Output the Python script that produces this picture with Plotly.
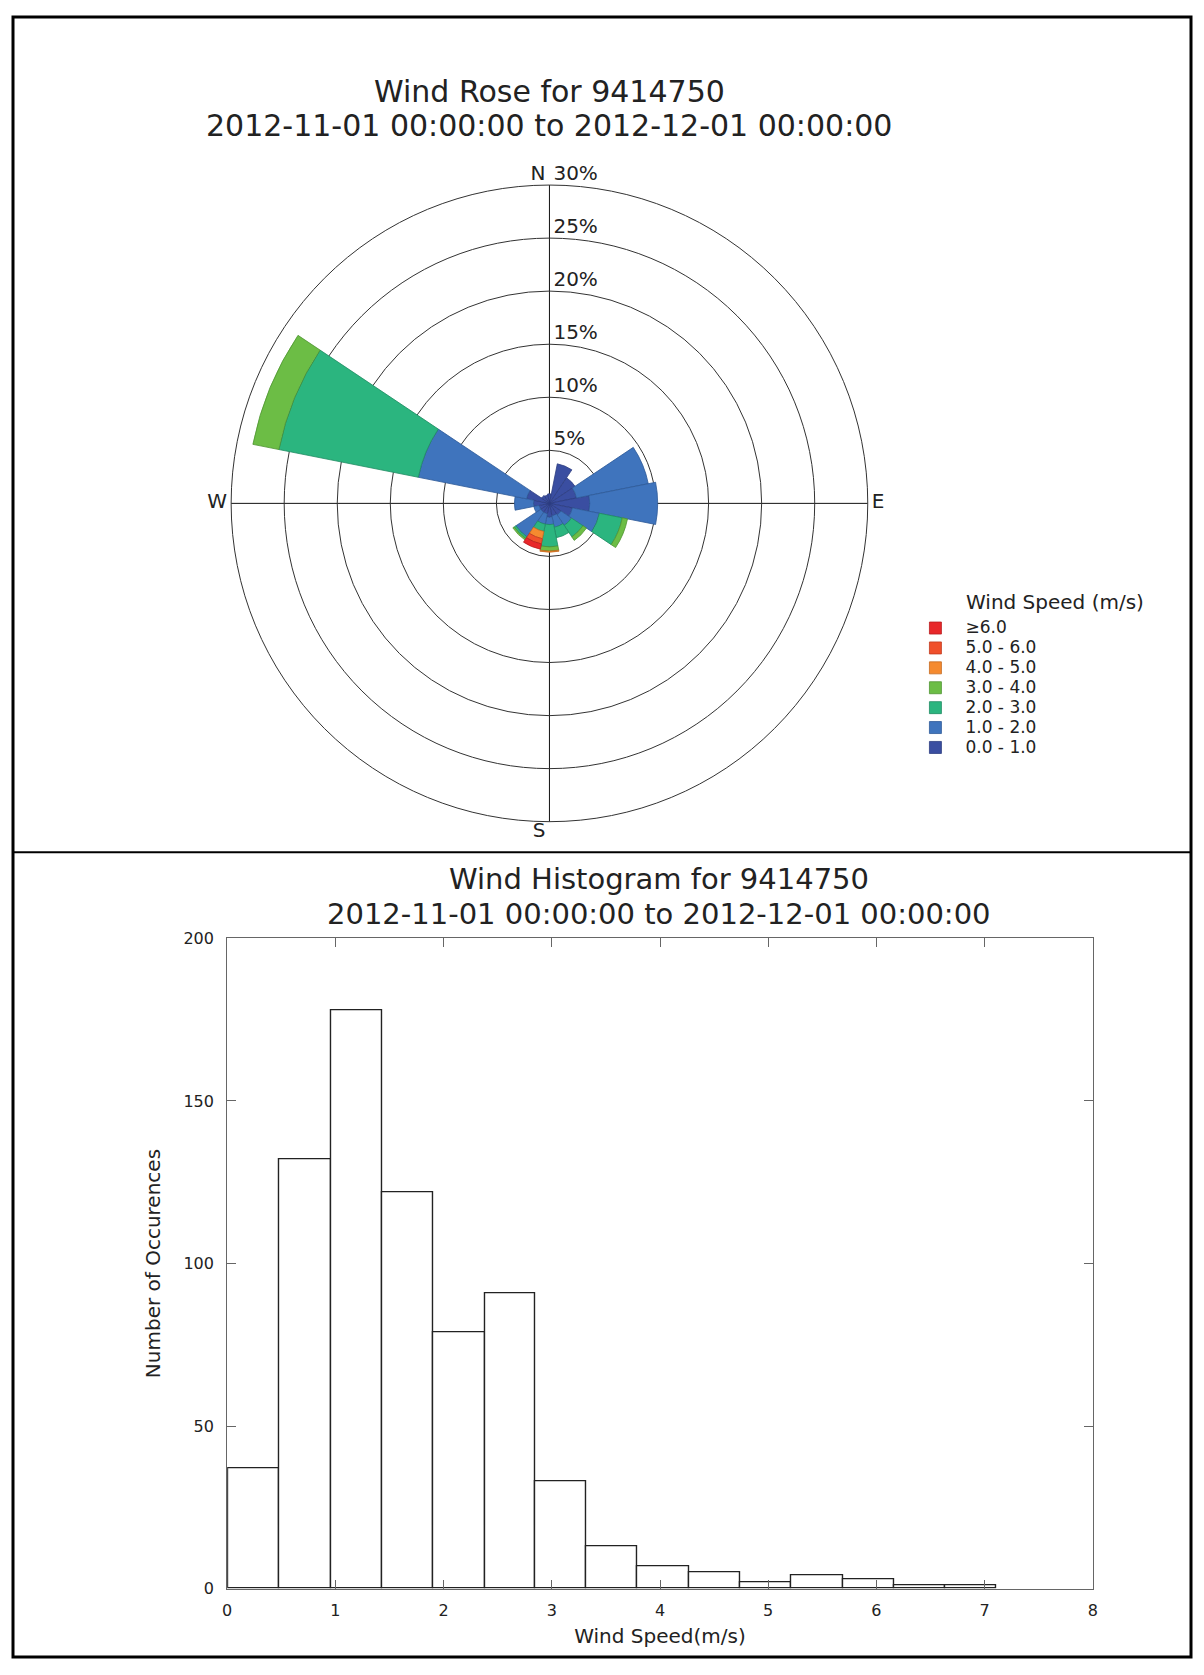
import plotly.graph_objects as go

# ---------------- Wind rose data (percent of observations) ----------------
directions = ["N", "NNE", "NE", "ENE", "E", "ESE", "SE", "SSE",
              "S", "SSW", "SW", "WSW", "W", "WNW", "NW", "NNW"]
direction_deg = [0, 22.5, 45, 67.5, 90, 112.5, 135, 157.5,
                 180, 202.5, 225, 247.5, 270, 292.5, 315, 337.5]

speed_0_1 = [0.9, 3.8, 2.9, 2.6, 3.8, 2.2, 1.3, 1.2, 1.3, 1.0, 1.0, 1.0, 1.5, 2.2, 0.9, 0.8]
speed_1_2 = [0.0, 0.0, 0.0, 6.9, 6.4, 2.6, 1.2, 1.1, 0.7, 1.0, 2.8, 0.5, 1.8, 10.4, 0.0, 0.0]
speed_2_3 = [0.0, 0.0, 0.0, 0.0, 0.0, 2.2, 1.3, 1.0, 2.1, 0.7, 0.2, 0.0, 0.0, 13.4, 0.0, 0.0]
speed_3_4 = [0.0, 0.0, 0.0, 0.0, 0.0, 0.5, 0.4, 0.0, 0.4, 0.0, 0.15, 0.0, 0.0, 2.5, 0.0, 0.0]
speed_4_5 = [0.0, 0.0, 0.0, 0.0, 0.0, 0.0, 0.0, 0.0, 0.1, 0.7, 0.0, 0.0, 0.0, 0.0, 0.0, 0.0]
speed_5_6 = [0.0, 0.0, 0.0, 0.0, 0.0, 0.0, 0.0, 0.0, 0.0, 0.5, 0.0, 0.0, 0.0, 0.0, 0.0, 0.0]
speed_6_up = [0.0, 0.0, 0.0, 0.0, 0.0, 0.0, 0.0, 0.0, 0.0, 0.5, 0.0, 0.0, 0.0, 0.0, 0.0, 0.0]

speed_labels = ["0.0 - 1.0", "1.0 - 2.0", "2.0 - 3.0", "3.0 - 4.0",
                "4.0 - 5.0", "5.0 - 6.0", "\u22656.0"]
speed_colors = ["#3a4ea1", "#3f74bd", "#2bb57f", "#6cbd45",
                "#f58a2f", "#f0502b", "#e8282a"]
speed_edge = ["#2c3c80", "#2f5b98", "#1f8c62", "#4f9432",
              "#c46a20", "#c03a1e", "#b81c1e"]
speed_series = [speed_0_1, speed_1_2, speed_2_3, speed_3_4,
                speed_4_5, speed_5_6, speed_6_up]
rose_ticks = [5, 10, 15, 20, 25, 30]
compass_deg = [0, 90, 180, 270]
compass_labels = ["N\u2009", "\u2009E", "S\u2009", "W\u2009"]
compass_pos = ["top left", "middle right", "bottom left", "middle left"]

# ---------------- Histogram data ----------------
bin_edges = [0.01, 0.48, 0.96, 1.43, 1.90, 2.38, 2.85, 3.32,
             3.79, 4.27, 4.74, 5.21, 5.69, 6.16, 6.64, 7.11]
counts = [37, 132, 178, 122, 79, 91, 33, 13, 7, 5, 2, 4, 3, 1, 1]

station = "9414750"
period = "2012-11-01 00:00:00 to 2012-12-01 00:00:00"

W, H = 1188, 1659
FONT = "DejaVu Sans"
TXT = "#222222"

fig = go.Figure()

for vals, lab, col, edge in zip(speed_series, speed_labels, speed_colors, speed_edge):
    fig.add_trace(go.Barpolar(
        r=vals, theta=direction_deg, width=[22.5] * len(vals),
        name=f'<span style="font-size:17px">{lab}</span>',
        marker=dict(color=col, line=dict(color=edge, width=0.8)),
        subplot="polar", hoverinfo="r+theta",
    ))

# radial percent labels (to the right of the north line, above each ring)
fig.add_trace(go.Scatterpolar(
    r=rose_ticks, theta=[0] * len(rose_ticks), mode="text",
    text=[f"\u2009{t}%" for t in rose_ticks], textposition="top right",
    textfont=dict(size=20, family=FONT, color=TXT),
    showlegend=False, hoverinfo="skip", cliponaxis=False, subplot="polar",
))
# compass labels
fig.add_trace(go.Scatterpolar(
    r=[rose_ticks[-1]] * len(compass_deg), theta=compass_deg, mode="text",
    text=compass_labels, textposition=compass_pos,
    textfont=dict(size=20, family=FONT, color=TXT),
    showlegend=False, hoverinfo="skip", cliponaxis=False, subplot="polar",
))

centers = [(a + b) / 2 for a, b in zip(bin_edges[:-1], bin_edges[1:])]
widths = [b - a for a, b in zip(bin_edges[:-1], bin_edges[1:])]
fig.add_trace(go.Bar(
    x=centers, y=counts, width=widths, showlegend=False,
    marker=dict(color="white", line=dict(color="#222222", width=1.4)),
    xaxis="x", yaxis="y",
))

# polar geometry (figure pixel coords)
cx, cy, rad = 541, 492, 322
fig.update_layout(
    width=W, height=H, autosize=False,
    margin=dict(l=0, r=0, t=0, b=0),
    paper_bgcolor="white", plot_bgcolor="white",
    font=dict(family=FONT, color=TXT),
    polar=dict(
        domain=dict(x=[(cx - rad) / W, (cx + rad) / W],
                    y=[1 - (cy + rad) / H, 1 - (cy - rad) / H]),
        bgcolor="white",
        barmode="stack",
        angularaxis=dict(
            direction="clockwise", rotation=90,
            tickmode="array", tickvals=compass_deg, showticklabels=False,
            showgrid=True, gridcolor="#111111", gridwidth=1,
            showline=True, linecolor="#333333", linewidth=1,
            ticks="", layer="above traces",
        ),
        radialaxis=dict(
            range=[0, rose_ticks[-1]], tickmode="array", tickvals=rose_ticks,
            showticklabels=False, angle=90,
            showline=False, showgrid=True, gridcolor="#333333", gridwidth=1,
            ticks="", layer="above traces",
        ),
    ),
    xaxis=dict(
        domain=[216 / W, 1089 / W], range=[0, 8], dtick=1,
        showline=True, linecolor="#666666", linewidth=1, mirror="ticks",
        ticks="inside", ticklen=9, tickcolor="#666666",
        showgrid=False, zeroline=False, ticklabelstandoff=7,
        tickfont=dict(size=16, family=FONT),
        title=dict(text="Wind Speed(m/s)", font=dict(size=20, family=FONT), standoff=10),
    ),
    yaxis=dict(
        domain=[1 - 1590 / H, 1 - 932 / H], range=[0, 200], dtick=50,
        showline=True, linecolor="#666666", linewidth=1, mirror="ticks",
        ticks="inside", ticklen=9, tickcolor="#666666",
        showgrid=False, zeroline=False, ticklabelstandoff=9,
        tickfont=dict(size=16, family=FONT),
        title=dict(text="Number of Occurences", font=dict(size=20, family=FONT), standoff=17),
    ),
    bargap=0,
    legend=dict(
        x=900 / W, y=1 - 603 / H, xanchor="left", yanchor="top",
        traceorder="reversed", font=dict(size=13, family=FONT),
        bgcolor="rgba(0,0,0,0)", itemwidth=50, tracegroupgap=0,
    ),
    annotations=[
        dict(text=f"Wind Rose for {station}", x=541 / W, y=1 - 75 / H,
             xref="paper", yref="paper", showarrow=False, yanchor="middle",
             font=dict(size=30, family=FONT, color=TXT)),
        dict(text=period, x=541 / W, y=1 - 110 / H,
             xref="paper", yref="paper", showarrow=False, yanchor="middle",
             font=dict(size=30, family=FONT, color=TXT)),
        dict(text=f"Wind Histogram for {station}", x=651 / W, y=1 - 872 / H,
             xref="paper", yref="paper", showarrow=False, yanchor="middle",
             font=dict(size=29, family=FONT, color=TXT)),
        dict(text=period, x=651 / W, y=1 - 907 / H,
             xref="paper", yref="paper", showarrow=False, yanchor="middle",
             font=dict(size=29, family=FONT, color=TXT)),
        dict(text="Wind Speed (m/s)", x=959 / W, y=1 - 592 / H,
             xref="paper", yref="paper", showarrow=False,
             xanchor="left", yanchor="middle",
             font=dict(size=20, family=FONT, color=TXT)),
    ],
    shapes=[
        dict(type="rect", xref="paper", yref="paper", x0=0, x1=1, y0=0, y1=1,
             line=dict(color="black", width=3)),
        dict(type="line", xref="paper", yref="paper", x0=0, x1=1,
             y0=1 - 845 / H, y1=1 - 845 / H, line=dict(color="black", width=2)),
    ],
)

fig.write_html("out.html")
